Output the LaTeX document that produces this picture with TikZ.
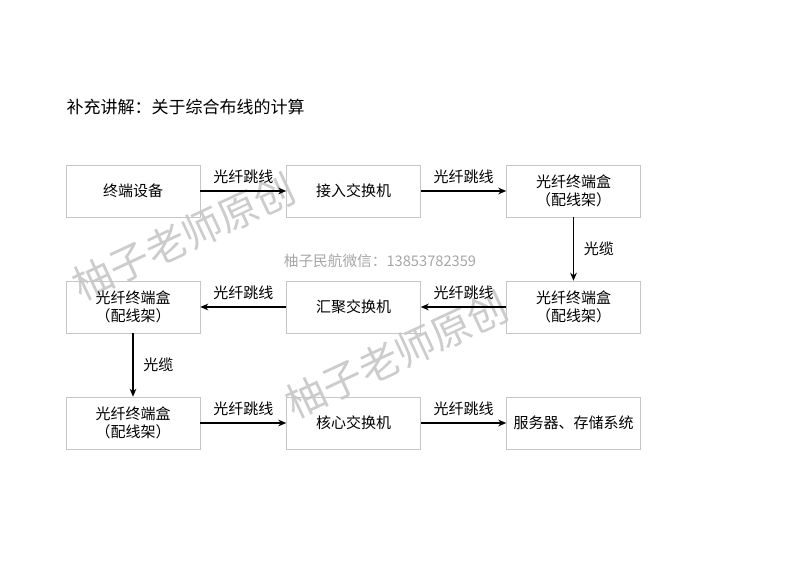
\documentclass[tikz,border=0pt]{standalone}
\usepackage{fontspec}
\setmainfont{Noto Sans CJK SC}
\usetikzlibrary{arrows.meta}

\begin{document}
\begin{tikzpicture}[x=0.75pt, y=-0.75pt, font=\fontsize{11.25}{13.5}\selectfont]
\tikzstyle{block}=[draw=gray!45, minimum width=100.5pt, minimum height=39pt, inner sep=0pt, align=center]
\tikzstyle{link}=[-{Stealth[length=6pt, width=5pt]}, line width=0.9pt]
\tikzstyle{watermark}=[text=gray!40, rotate=25, font=\fontsize{30}{30}\selectfont]
\useasboundingbox (0,0) rectangle (800,566);

\node[anchor=west, font=\fontsize{12.75}{14}\selectfont] (title) at (62,107) {补充讲解：关于综合布线的计算};

% watermarks
\node[watermark] (wma) at (184,237) {柚子老师原创};
\node[watermark] (wmb) at (397,355) {柚子老师原创};
\node[text=gray!70, font=\fontsize{11}{12}\selectfont] (wx) at (380,261) {柚子民航微信：13853782359};

\node[block] (term) at (133,191) {终端设备};
\node[block] (acc) at (353.5,191) {接入交换机};
\node[block] (odfa) at (573.5,191) {光纤终端盒\\（配线架）};
\node[block] (odfb) at (573.5,307) {光纤终端盒\\（配线架）};
\node[block] (agg) at (353.5,307) {汇聚交换机};
\node[block] (odfc) at (133,307) {光纤终端盒\\（配线架）};
\node[block] (odfd) at (133,423) {光纤终端盒\\（配线架）};
\node[block] (core) at (353.5,423) {核心交换机};
\node[block] (srv) at (573.5,423) {服务器、存储系统};

\path[link]
(term) edge node[above=1.5pt] {光纤跳线} (acc)
(acc)  edge node[above=1.5pt] {光纤跳线} (odfa)
(odfa) edge node[right=4pt] {光缆} (odfb)
(odfb) edge node[above=1.5pt] {光纤跳线} (agg)
(agg)  edge node[above=1.5pt] {光纤跳线} (odfc)
(odfc) edge node[right=4pt] {光缆} (odfd)
(odfd) edge node[above=1.5pt] {光纤跳线} (core)
(core) edge node[above=1.5pt] {光纤跳线} (srv);
\end{tikzpicture}
\end{document}
